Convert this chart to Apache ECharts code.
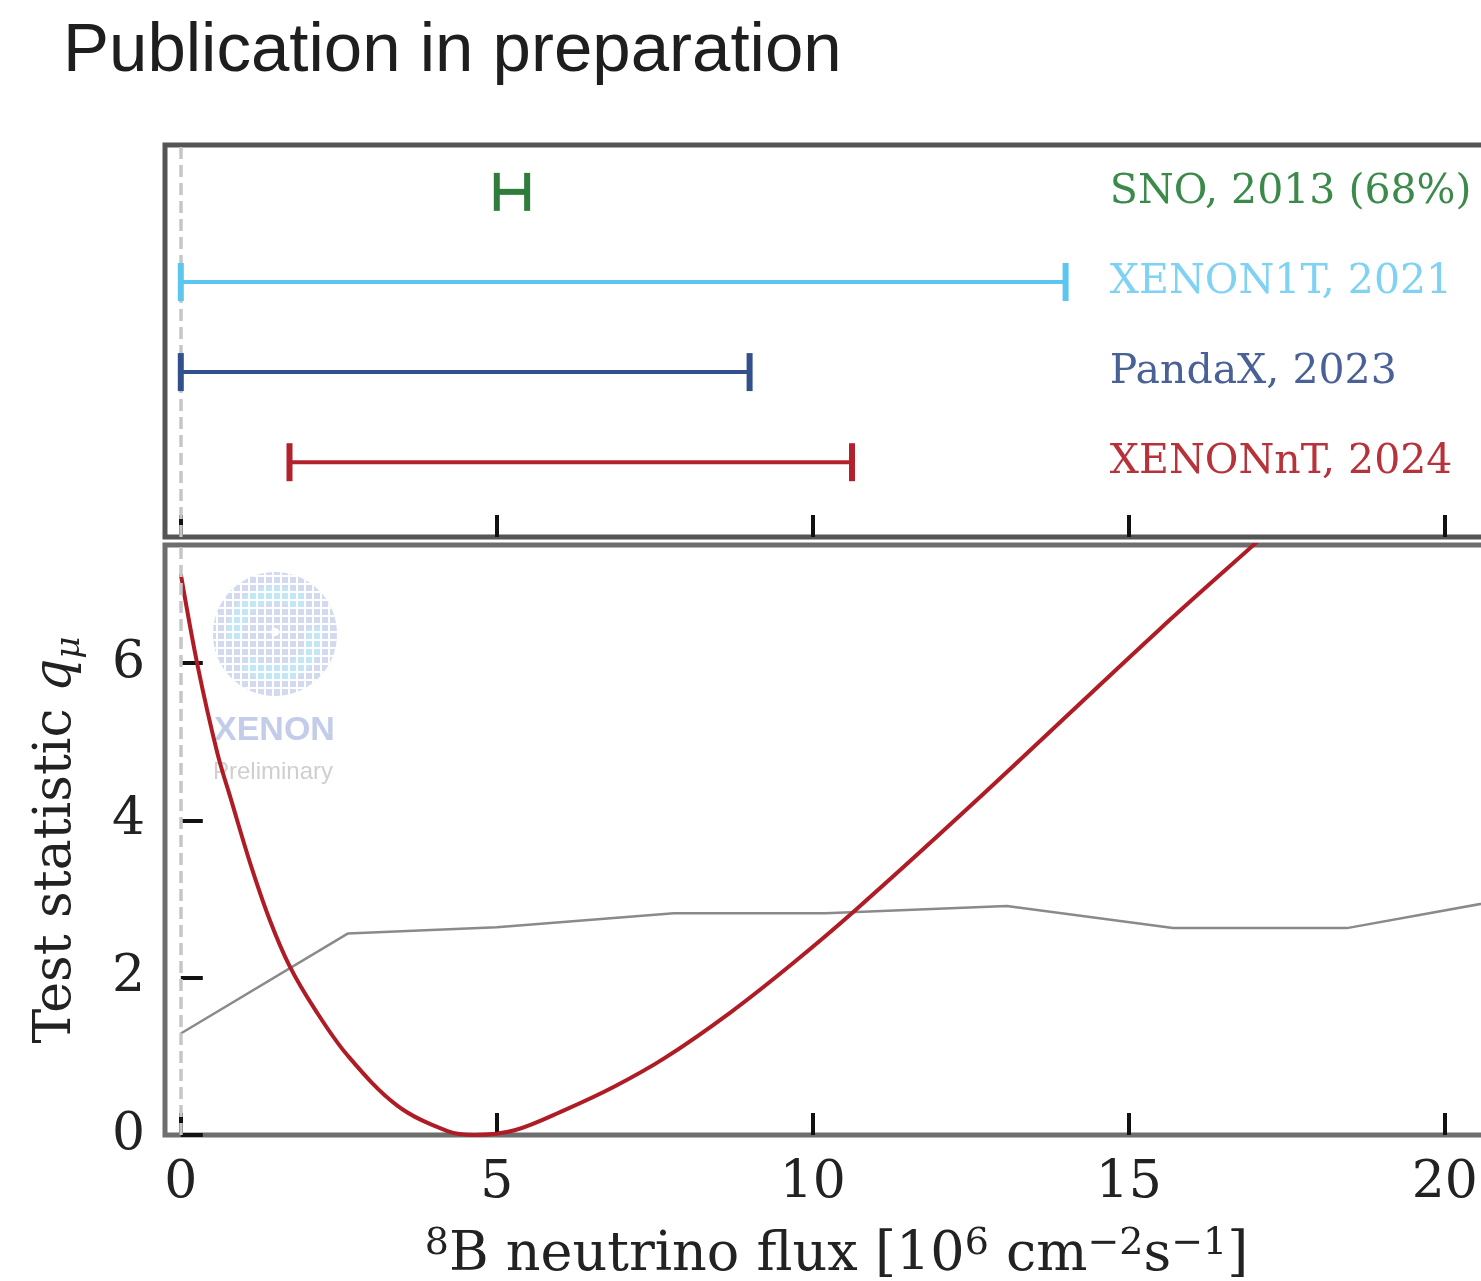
<!DOCTYPE html>
<html>
<head>
<meta charset="utf-8">
<script src="https://cdn.jsdelivr.net/npm/echarts@6/dist/echarts.min.js"></script>
<style>
html,body{margin:0;padding:0;background:#ffffff;}
#chart{width:1481px;height:1281px;}
</style>
</head>
<body>
<div id="chart"></div>
<script>
// ---------------- data ----------------
const experiments = ['SNO, 2013 (68%)', 'XENON1T, 2021', 'PandaX, 2023', 'XENONnT, 2024'];
const intervalLow  = [5.0, 0.0, 0.0, 1.72];
const intervalHigh = [5.48, 14.0, 9.0, 10.62];

const xTicks = [0, 5, 10, 15, 20];
const yTicks = [0, 2, 4, 6];

// XENONnT profile-likelihood test statistic (red)
const redFlux = [0, 0.27, 0.58, 0.8, 1.1, 1.4, 1.72, 2.12, 2.64, 3.43, 4.22, 4.65, 5.28, 6.08, 6.87, 7.66, 8.7, 9.68, 10.69, 12.53, 15.49, 17.03, 18.5];
const redQ    = [7.13, 5.95, 4.85, 4.25, 3.45, 2.75, 2.15, 1.6, 1.01, 0.37, 0.05, 0.0, 0.06, 0.32, 0.62, 0.98, 1.56, 2.18, 2.87, 4.21, 6.43, 7.54, 8.6];

// critical value curve (grey)
const grayFlux = [0, 2.64, 5.0, 7.8, 10.2, 13.07, 15.7, 18.45, 21];
const grayQ    = [1.29, 2.56, 2.64, 2.82, 2.82, 2.91, 2.63, 2.63, 3.0];

// ---------------- styles ----------------
const barColors  = ['#2e7d3c', '#5cc6ef', '#32508c', '#b3222c'];
const textColors = ['#3b8a4a', '#7fd2f4', '#4a6198', '#b8323a'];
const barWidths  = [6, 4, 4, 4];
const serif = 'DejaVu Serif';
const labelX = 14.7;

const chart = echarts.init(document.getElementById('chart'), null, {renderer: 'canvas'});

// XENON logo (decoration)
const logo = [];
const cx = 275, cy = 634, r = 62;
logo.push({type: 'circle', shape: {cx: cx, cy: cy, r: r}, style: {fill: '#d3daf0'}, z: 0});
logo.push({type: 'arc', shape: {cx: cx, cy: cy, r: 40, startAngle: Math.PI * 0.95, endAngle: Math.PI * 1.75}, style: {stroke: '#c4e7f8', lineWidth: 16, fill: null}, z: 0});
logo.push({type: 'arc', shape: {cx: cx, cy: cy, r: 40, startAngle: Math.PI * -0.05, endAngle: Math.PI * 0.75}, style: {stroke: '#c4e7f8', lineWidth: 16, fill: null}, z: 0});
for (let d = -r + 4; d < r; d += 8) {
  const h = Math.sqrt(r * r - d * d);
  logo.push({type: 'line', shape: {x1: cx - h, y1: cy + d, x2: cx + h, y2: cy + d}, style: {stroke: '#ffffff', lineWidth: 2}, z: 0});
  logo.push({type: 'line', shape: {x1: cx + d, y1: cy - h, x2: cx + d, y2: cy + h}, style: {stroke: '#ffffff', lineWidth: 2}, z: 0});
}
logo.push({type: 'circle', shape: {cx: cx, cy: cy - 2, r: 4}, style: {fill: '#ffffff'}, z: 0});
logo.push({type: 'text', x: 214, y: 731, style: {text: 'XENON', fill: '#c3cde9', fontSize: 34, fontWeight: 'bold', fontFamily: 'Liberation Sans', align: 'left', verticalAlign: 'middle'}, z: 0});
logo.push({type: 'text', x: 213, y: 772, style: {text: 'Preliminary', fill: '#cfcfcf', fontSize: 24, fontFamily: 'Liberation Sans', align: 'left', verticalAlign: 'middle'}, z: 0});

const dashLine = {
  silent: true,
  symbol: ['none', 'none'],
  label: {show: false},
  lineStyle: {type: [12, 6], color: '#c6c6c6', width: 3.5},
  data: [{xAxis: 0}]
};

const tickStyle = {show: true, inside: true, length: 22, lineStyle: {color: '#111111', width: 4}};

const option = {
  animation: false,
  backgroundColor: '#ffffff',
  title: {
    text: 'Publication in preparation',
    left: 58, top: 12,
    textStyle: {fontFamily: 'Liberation Sans', fontSize: 69, fontWeight: 'normal', color: '#1e1e1e'}
  },
  graphic: logo,
  grid: [
    {left: 165, top: 145, width: 1343, height: 392, show: true, borderColor: '#555555', borderWidth: 5, backgroundColor: 'transparent', outerBoundsMode: 'none', containLabel: false},
    {left: 165, top: 545, width: 1343, height: 590, show: true, borderColor: '#6e6e6e', borderWidth: 5, backgroundColor: 'transparent', outerBoundsMode: 'none', containLabel: false}
  ],
  xAxis: [
    {
      gridIndex: 0, type: 'value', min: -0.25, max: 21,
      axisLine: {show: false},
      axisTick: Object.assign({customValues: xTicks}, tickStyle),
      axisLabel: {show: false},
      splitLine: {show: false}
    },
    {
      gridIndex: 1, type: 'value', min: -0.25, max: 21,
      axisLine: {show: false},
      axisTick: Object.assign({customValues: xTicks}, tickStyle),
      axisLabel: {show: true, customValues: xTicks, fontFamily: serif, fontSize: 52, color: '#222222', margin: 22},
      splitLine: {show: false},
      name: '{p|8}{m|B neutrino flux [10}{p|6}{m| cm}{p|\u22122}{m|s}{p|\u22121}{m|]}',
      nameLocation: 'middle',
      nameGap: 90,
      nameTextStyle: {
        rich: {
          m: {fontFamily: serif, fontSize: 54, color: '#222222', lineHeight: 62, verticalAlign: 'middle'},
          p: {fontFamily: serif, fontSize: 38, color: '#222222', lineHeight: 38, verticalAlign: 'top'}
        }
      }
    }
  ],
  yAxis: [
    {
      gridIndex: 0, type: 'value', min: 0.17, max: 4.52,
      axisLine: {show: false}, axisTick: {show: false}, axisLabel: {show: false}, splitLine: {show: false}
    },
    {
      gridIndex: 1, type: 'value', min: 0, max: 7.5,
      axisLine: {show: false},
      axisTick: Object.assign({customValues: yTicks}, tickStyle),
      axisLabel: {show: true, customValues: yTicks, fontFamily: serif, fontSize: 52, color: '#222222', margin: 20},
      splitLine: {show: false},
      name: '{t|Test statistic }{q|q}{s|\u03BC}',
      nameLocation: 'middle',
      nameGap: 78,
      nameRotate: 90,
      nameTextStyle: {
        rich: {
          t: {fontFamily: serif, fontSize: 52, color: '#222222', lineHeight: 62},
          q: {fontFamily: serif, fontSize: 52, fontStyle: 'italic', color: '#222222', lineHeight: 62},
          s: {fontFamily: serif, fontSize: 34, fontStyle: 'italic', color: '#222222', lineHeight: 62, verticalAlign: 'bottom'}
        }
      }
    }
  ],
  series: [
    {
      type: 'line', xAxisIndex: 0, yAxisIndex: 0, data: [], silent: true,
      markLine: dashLine
    },
    {
      type: 'custom', xAxisIndex: 0, yAxisIndex: 0, silent: true, z: 5,
      encode: {x: [0, 1], y: 2},
      data: experiments.map((n, i) => [intervalLow[i], intervalHigh[i], experiments.length - i, i]),
      renderItem: function (params, api) {
        const row = api.value(2);
        const idx = api.value(3);
        const lo = api.coord([api.value(0), row]);
        const hi = api.coord([api.value(1), row]);
        const tp = api.coord([labelX, row]);
        const c = barColors[idx];
        const capH = 19;
        return {
          type: 'group',
          children: [
            {type: 'line', shape: {x1: lo[0], y1: lo[1], x2: hi[0], y2: hi[1]}, style: {stroke: c, lineWidth: barWidths[idx]}},
            {type: 'line', shape: {x1: lo[0], y1: lo[1] - capH, x2: lo[0], y2: lo[1] + capH}, style: {stroke: c, lineWidth: 6}},
            {type: 'line', shape: {x1: hi[0], y1: hi[1] - capH, x2: hi[0], y2: hi[1] + capH}, style: {stroke: c, lineWidth: 6}},
            {type: 'text', x: tp[0], y: tp[1], style: {text: experiments[idx], fill: textColors[idx], fontFamily: serif, fontSize: 41, align: 'left', verticalAlign: 'middle'}}
          ]
        };
      }
    },
    {
      type: 'line', xAxisIndex: 1, yAxisIndex: 1, silent: true,
      data: grayFlux.map((x, i) => [x, grayQ[i]]),
      showSymbol: false, smooth: false,
      lineStyle: {color: '#8a8a8a', width: 2.5},
      markLine: dashLine,
      z: 3
    },
    {
      type: 'line', xAxisIndex: 1, yAxisIndex: 1, silent: true,
      data: redFlux.map((x, i) => [x, redQ[i]]),
      showSymbol: false, smooth: 0.35,
      lineStyle: {color: '#b01c25', width: 4},
      z: 4
    }
  ]
};
chart.setOption(option);
</script>
</body>
</html>
